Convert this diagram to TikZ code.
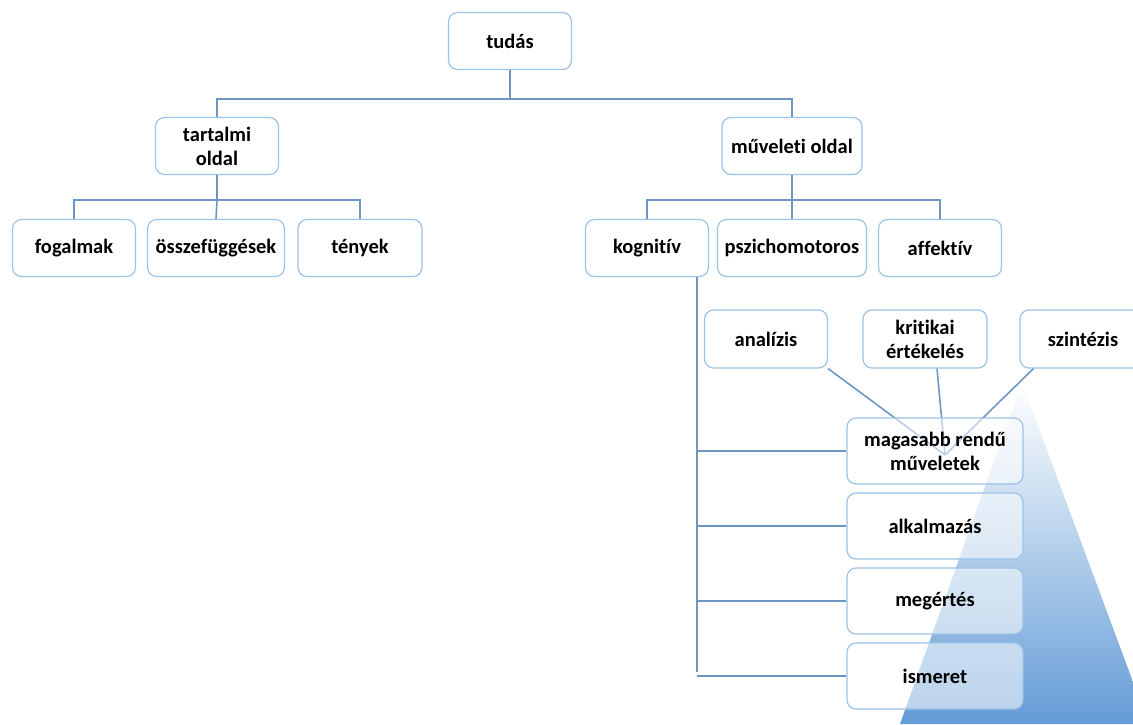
\documentclass[tikz,border=0pt]{standalone}
\usepackage{fontspec}
\setmainfont{Carlito}[Ligatures={NoCommon}]
\definecolor{boxc}{RGB}{157,195,230}
\definecolor{linec}{RGB}{110,150,196}
\definecolor{triblue}{RGB}{100,156,214}
\begin{document}
\begin{tikzpicture}[x=1pt,y=-1pt,
  box/.style={draw=boxc, line width=1.2pt, rounded corners=9pt, fill=white,
    minimum width=123pt, minimum height=57pt, align=center,
    font=\fontsize{20.5}{24}\selectfont\bfseries, inner sep=2pt},
  lowbox/.style={box, minimum width=176pt, minimum height=66pt, fill opacity=0.55, text opacity=1, draw opacity=1},
  conn/.style={draw=linec, line width=1.6pt}]
\useasboundingbox (0,0) rectangle (1133,724);
% triangle
\shade[top color=white, bottom color=triblue] (1022,383) -- (1136,690) -- (1136,724) -- (900,724) -- cycle;
% nodes
\node[box] (tudas) at (510,41) {tudás};
\node[box] (tart) at (217,146) {tartalmi\\oldal};
\node[box, minimum width=140pt] (muv) at (792,146) {műveleti oldal};
\node[box] (fog) at (74,248) {fogalmak};
\node[box, minimum width=137pt] (ossz) at (216,248) {összefüggések};
\node[box, minimum width=124pt] (teny) at (360,248) {tények};
\node[box] (kogn) at (647,248) {kognitív};
\node[box, minimum width=149pt] (pszi) at (792,248) {pszichomotoros};
\node[box] (affe) at (940,248) {affektív};
\node[box, minimum width=123pt, minimum height=58pt] (anal) at (766,339) {analízis};
\node[box, minimum width=124pt, minimum height=58pt] (krit) at (925,339) {kritikai\\értékelés};
\node[box, minimum width=126pt, minimum height=58pt] (szin) at (1083,339) {szintézis};
% connectors behind lower boxes
\coordinate (conv) at (945,455);
\draw[conn] (anal.south east) -- (conv);
\draw[conn] (krit.south) ++(12,0) coordinate (kritb) -- (conv);
\draw[conn] (szin.south west) ++(14,0) coordinate (szinb) -- (conv);
\coordinate (kv) at (697,277);
\coordinate (kend) at (697,672);
\draw[conn] (kv) -- (kend);
\node[lowbox] (maga) at (935,451) {magasabb rendű\\műveletek};
\node[lowbox] (alka) at (935,526) {alkalmazás};
\node[lowbox] (mege) at (935,601) {megértés};
\node[lowbox] (isme) at (935,676) {ismeret};
\draw[conn] (kv |- maga.west) -- (maga.west);
\draw[conn] (kv |- alka.west) -- (alka.west);
\draw[conn] (kv |- mege.west) -- (mege.west);
\draw[conn] (kv |- isme.west) -- (isme.west);
% tree connectors
\draw[conn] (tudas.south) -- ++(0,29) coordinate (t1);
\draw[conn] (tart.north) |- (t1) -| (muv.north);
\draw[conn] (tart.south) -- ++(0,25) coordinate (t2);
\draw[conn] (fog.north) |- (t2) -| (teny.north);
\draw[conn] (t2) -- (ossz.north);
\draw[conn] (muv.south) -- ++(0,25) coordinate (t3);
\draw[conn] (kogn.north) |- (t3) -| (affe.north);
\draw[conn] (t3) -- (pszi.north);
\end{tikzpicture}
\end{document}
